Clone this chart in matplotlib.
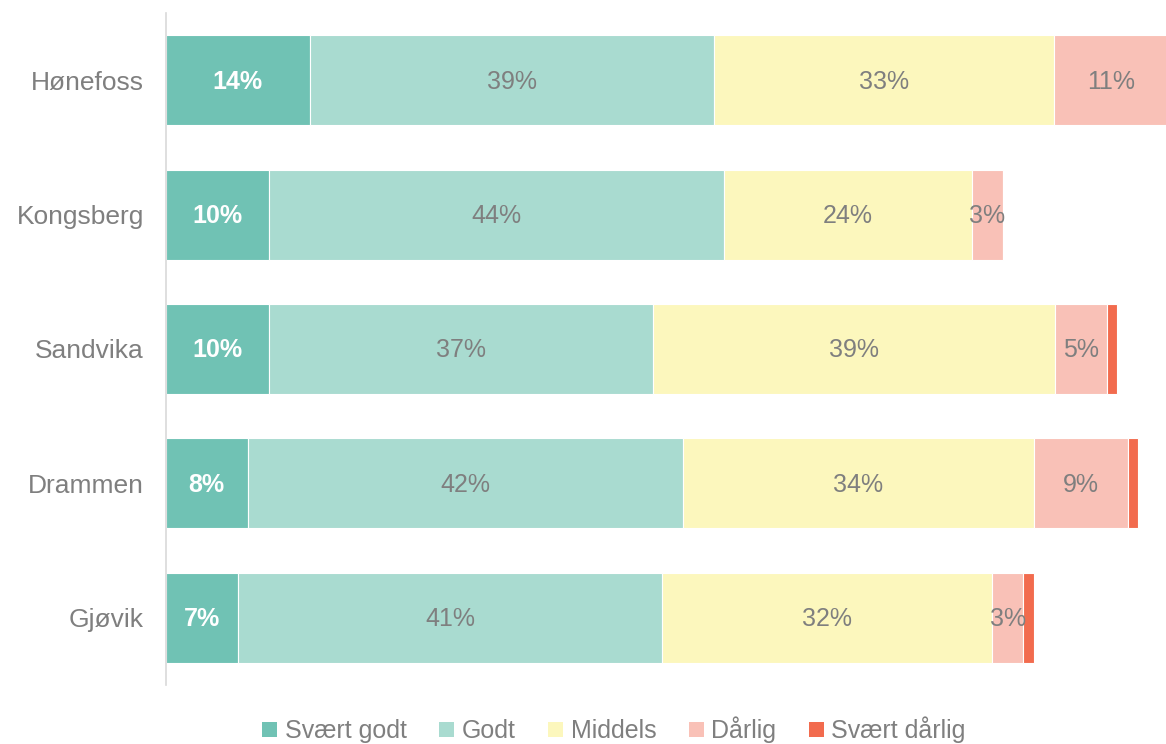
import matplotlib
matplotlib.use("Agg")
import matplotlib.pyplot as plt
from matplotlib.patches import Patch

plt.rcParams['font.family'] = ['Liberation Sans', 'DejaVu Sans']

categories = ["Hønefoss", "Kongsberg", "Sandvika", "Drammen", "Gjøvik"]
series = ["Svært godt", "Godt", "Middels", "Dårlig", "Svært dårlig"]
svaert_godt = [13.9, 10.0, 10.0, 7.9, 7.0]
godt = [39.1, 44.0, 37.1, 42.1, 41.0]
middels = [33.0, 24.0, 39.0, 34.0, 32.0]
darlig = [11.0, 3.0, 5.0, 9.1, 3.0]
svaert_darlig = [0.0, 0.0, 1.0, 1.0, 1.0]
colors = ["#70C2B4", "#A9DBD0", "#FCF7BD", "#F9C1B7", "#F26B4E"]
label_colors = ["white", "#7F7F7F", "#7F7F7F", "#7F7F7F", None]
label_weights = ["bold", "normal", "normal", "normal", "normal"]

data = [svaert_godt, godt, middels, darlig, svaert_darlig]

fig = plt.figure(figsize=(11.66, 7.44), dpi=100)
ax = fig.add_axes([166/1166, 59/744, 1 - 166/1166, (685-13)/744])

ypos = list(range(len(categories)))
left = [0.0]*len(categories)
for i, (name, vals) in enumerate(zip(series, data)):
    ax.barh(ypos, vals, left=left, height=0.67, color=colors[i],
            edgecolor="white", linewidth=0.8, label=name)
    if label_colors[i] is not None:
        for j, v in enumerate(vals):
            if v > 0:
                ax.text(left[j] + v/2, ypos[j] + 0.01, f"{round(v)}%", ha="center", va="center",
                        color=label_colors[i], fontsize=18, fontweight=label_weights[i])
    left = [l + v for l, v in zip(left, vals)]

ax.set_xlim(0, 96.8)
ax.set_ylim(4.5, -0.5)
ax.set_yticks(ypos)
ax.set_yticklabels(categories, fontsize=19, color="#7F7F7F")
ax.tick_params(axis="y", length=0, pad=16)
ax.set_xticks([])
for s in ["top", "right", "bottom"]:
    ax.spines[s].set_visible(False)
ax.spines["left"].set_color("#D9D9D9")
ax.spines["left"].set_linewidth(1.2)

handles = [Patch(facecolor=c, edgecolor="none") for c in colors]
fig.legend(handles, series, loc="center", bbox_to_anchor=(614/1166, 14/744),
           ncol=5, frameon=False, fontsize=18, labelcolor="#7F7F7F",
           handlelength=0.6, handleheight=0.6, handletextpad=0.3, columnspacing=1.3)

fig.savefig("out.png", dpi=100)
